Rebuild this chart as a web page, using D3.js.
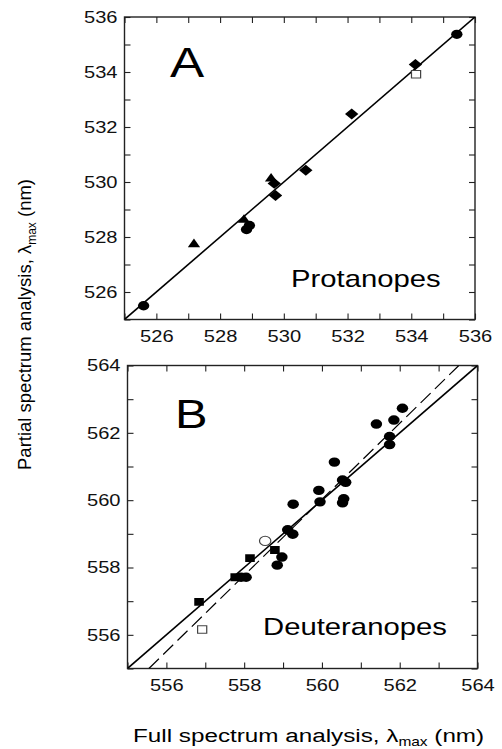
<!DOCTYPE html>
<html>
<head>
<meta charset="utf-8">
<script src="https://cdn.jsdelivr.net/npm/d3@7"></script>
<style>
    body { margin: 0; background: #fff; }
    svg { display: block; font-family: 'Liberation Sans', Arial, sans-serif; }
</style>
</head>
<body>
<div class="chart-container"></div>
<script>
// panel A: protanopes (full spectrum, partial spectrum)
const protanCircles = [[525.6, 525.5], [528.83, 528.27], [528.92, 528.42], [535.43, 535.37]];
const protanDiamonds = [[529.74, 529.51], [529.7, 529.95], [530.69, 530.43], [532.13, 532.47], [534.13, 534.27]];
const protanTriangles = [[527.18, 527.73], [528.75, 528.62], [529.6, 530.12]];
const protanOpenSquares = [[534.15, 533.92]];
const protanTicks = [525, 526, 527, 528, 529, 530, 531, 532, 533, 534, 535, 536];

// panel B: deuteranopes
const deutCircles = [
    [562.07, 562.73], [561.4, 562.26], [561.85, 562.38], [561.74, 561.89], [561.74, 561.65],
    [560.32, 561.13], [560.53, 560.6], [560.61, 560.53], [560.56, 560.04], [560.53, 559.92],
    [559.92, 560.29], [559.95, 559.95], [559.26, 559.88], [559.12, 559.12], [559.25, 558.99],
    [558.97, 558.31], [558.85, 558.07], [557.92, 557.71], [558.05, 557.71],
];
const deutSquares = [[558.79, 558.52], [558.15, 558.28], [557.77, 557.71], [556.84, 556.98]];
const deutOpenCircles = [[558.54, 558.79]];
const deutOpenSquares = [[556.92, 556.16]];
const deutFit = [[555.55, 555], [563.52, 564]];
const deutTicks = [555, 556, 557, 558, 559, 560, 561, 562, 563, 564];

const SX = 1.22; // the original figure is stretched sideways

const width = 502;
const height = 749;

const svg = d3.select('.chart-container').append('svg')
    .attr('width', width)
    .attr('height', height);

svg.append('defs');

function drawPanel(opts) {
    const x = d3.scaleLinear().domain(opts.domain).range([opts.left, opts.right]);
    const y = d3.scaleLinear().domain(opts.domain).range([opts.bottom, opts.top]);
    const g = svg.append('g').attr('id', opts.id);

    svg.select('defs').append('clipPath').attr('id', 'clip-' + opts.id)
        .append('rect')
        .attr('x', opts.left)
        .attr('y', opts.top)
        .attr('width', opts.right - opts.left)
        .attr('height', opts.bottom - opts.top);

    const fmt = (d) => (d % 2 === 0 ? d : '');

    const axes = [
        { axis: d3.axisBottom(x).tickFormat(fmt).tickPadding(11), at: 'translate(0,' + opts.bottom + ')' },
        { axis: d3.axisLeft(y).tickFormat(fmt).tickPadding(7), at: 'translate(' + opts.left + ',0)' },
        { axis: d3.axisTop(x).tickFormat(''), at: 'translate(0,' + opts.top + ')' },
        { axis: d3.axisRight(y).tickFormat(''), at: 'translate(' + opts.right + ',0)' },
    ];
    axes.forEach((a) => {
        const ax = g.append('g')
            .attr('transform', a.at)
            .call(a.axis.tickValues(opts.ticks).tickSize(-6).tickSizeOuter(0));
        ax.select('.domain').remove();
        ax.selectAll('line').attr('stroke', '#222').attr('stroke-width', 1.1);
        ax.selectAll('text')
            .attr('font-size', 16.5)
            .attr('font-family', "'Liberation Sans', Arial, sans-serif")
            .attr('fill', '#111');
    });
    // stretch the tick labels like the source
    g.selectAll('text').each(function () {
        const t = d3.select(this);
        const tx = +t.attr('x') || 0;
        t.attr('x', tx / SX).attr('transform', 'scale(' + SX + ',1)');
    });

    g.append('rect')
        .attr('x', opts.left)
        .attr('y', opts.top)
        .attr('width', opts.right - opts.left)
        .attr('height', opts.bottom - opts.top)
        .attr('fill', 'none')
        .attr('stroke', '#222')
        .attr('stroke-width', 1.4);

    const plot = g.append('g').attr('clip-path', 'url(#clip-' + opts.id + ')');
    const line = d3.line().x((d) => x(d[0])).y((d) => y(d[1]));

    plot.append('path')
        .datum([[opts.domain[0], opts.domain[0]], [opts.domain[1], opts.domain[1]]])
        .attr('d', line)
        .attr('fill', 'none')
        .attr('stroke', '#000')
        .attr('stroke-width', 1.6);

    if (opts.fit) {
        plot.append('path')
            .datum(opts.fit)
            .attr('d', line)
            .attr('fill', 'none')
            .attr('stroke', '#000')
            .attr('stroke-width', 1.2)
            .attr('stroke-dasharray', '14,6');
    }

    opts.series.forEach((s) => {
        plot.selectAll(null)
            .data(s.data)
            .enter()
            .append('path')
            .attr('d', d3.symbol().type(s.type).size(s.size))
            .attr('transform', (d) => 'translate(' + x(d[0]) + ',' + y(d[1]) + ') scale(' + SX + ',1)' + (s.rotate ? ' rotate(45)' : ''))
            .attr('fill', s.open ? '#fff' : '#000')
            .attr('stroke', s.open ? '#444' : 'none')
            .attr('stroke-width', s.open ? 1 : 0);
    });

    g.append('text')
        .text(opts.letter)
        .attr('transform', 'translate(' + opts.letterAt[0] + ',' + opts.letterAt[1] + ') scale(' + SX + ',1)')
        .attr('font-size', opts.letterSize)
        .attr('fill', '#000');

    g.append('text')
        .text(opts.label)
        .attr('transform', 'translate(' + opts.labelAt[0] + ',' + opts.labelAt[1] + ') scale(' + SX + ',1)')
        .attr('font-size', 24)
        .attr('fill', '#000');
}

drawPanel({
    id: 'protan',
    domain: [525, 536],
    ticks: protanTicks,
    left: 124.5,
    right: 475,
    top: 17,
    bottom: 319.5,
    series: [
        { data: protanCircles, type: d3.symbolCircle, size: 68 },
        { data: protanDiamonds, type: d3.symbolSquare, size: 60, rotate: true },
        { data: protanTriangles, type: d3.symbolTriangle, size: 44 },
        { data: protanOpenSquares, type: d3.symbolSquare, size: 56, open: true },
    ],
    letter: 'A',
    letterAt: [170, 77],
    letterSize: 42,
    label: 'Protanopes',
    labelAt: [291, 287],
});

drawPanel({
    id: 'deut',
    domain: [555, 564],
    ticks: deutTicks,
    left: 127.5,
    right: 477.5,
    top: 365.5,
    bottom: 668.5,
    fit: deutFit,
    series: [
        { data: deutCircles, type: d3.symbolCircle, size: 70 },
        { data: deutSquares, type: d3.symbolSquare, size: 62 },
        { data: deutOpenCircles, type: d3.symbolCircle, size: 68, open: true },
        { data: deutOpenSquares, type: d3.symbolSquare, size: 56, open: true },
    ],
    letter: 'B',
    letterAt: [175, 428],
    letterSize: 40,
    label: 'Deuteranopes',
    labelAt: [263, 635],
});

// axis titles
const xTitle = svg.append('g')
    .attr('transform', 'translate(133,741.5) scale(1.29,1)')
    .append('text')
    .attr('font-size', 18.8)
    .attr('fill', '#000');
xTitle.append('tspan').text('Full spectrum analysis, \u03bb');
xTitle.append('tspan').text('max').attr('font-size', 12).attr('dy', 4);
xTitle.append('tspan').text(' (nm)').attr('dy', -4);

const yTitle = svg.append('text')
    .attr('transform', 'translate(31,324.5) rotate(-90)')
    .attr('text-anchor', 'middle')
    .attr('font-size', 18.5)
    .attr('fill', '#000');
yTitle.append('tspan').text('Partial spectrum analysis, \u03bb');
yTitle.append('tspan').text('max').attr('font-size', 12).attr('dy', 5);
yTitle.append('tspan').text(' (nm)').attr('dy', -5);
</script>
</body>
</html>
